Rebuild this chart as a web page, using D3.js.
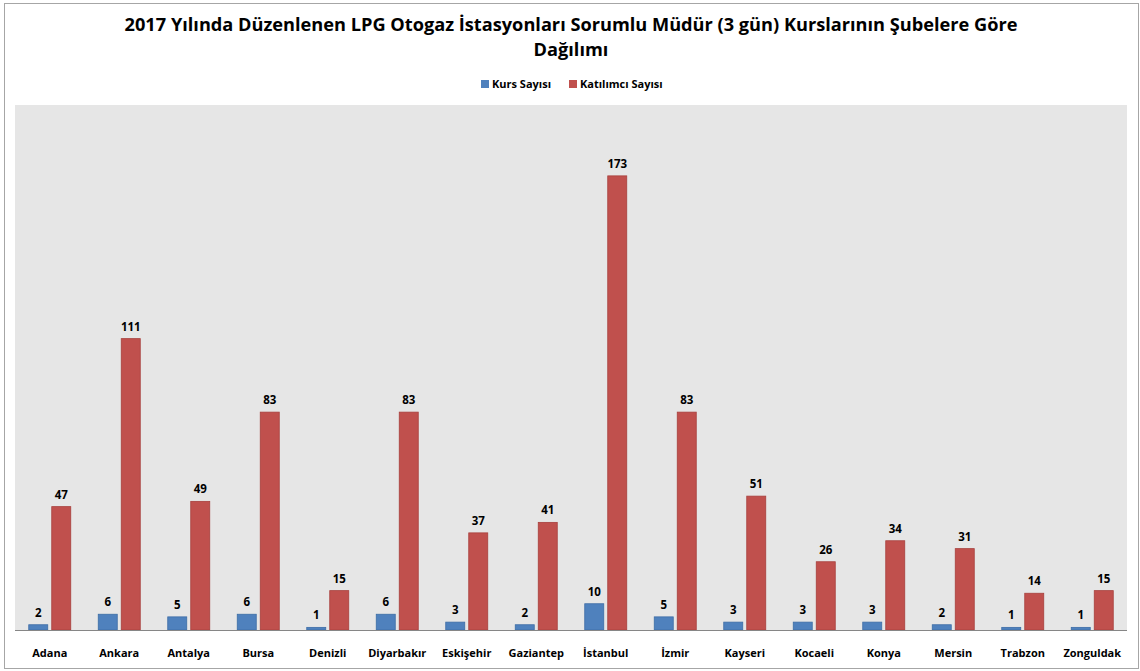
<!DOCTYPE html>
<html>
<head>
<meta charset="utf-8">
<script src="https://cdn.jsdelivr.net/npm/d3@7"></script>
<style>
  body { margin: 0; background: #fff; }
  svg text { font-family: "Open Sans", "DejaVu Sans", sans-serif; font-weight: bold; fill: #000; }
</style>
</head>
<body>
<div id="chart"></div>
<script>
// Chart data
var cities = ["Adana", "Ankara", "Antalya", "Bursa", "Denizli", "Diyarbakır", "Eskişehir", "Gaziantep",
    "İstanbul", "İzmir", "Kayseri", "Kocaeli", "Konya", "Mersin", "Trabzon", "Zonguldak"];
var kursSayisi = [2, 6, 5, 6, 1, 6, 3, 2, 10, 5, 3, 3, 3, 2, 1, 1];
var katilimciSayisi = [47, 111, 49, 83, 15, 83, 37, 41, 173, 83, 51, 26, 34, 31, 14, 15];
var seriesNames = ["Kurs Sayısı", "Katılımcı Sayısı"];
var seriesColors = ["#4f81bd", "#c0504d"];
var yMax = 200;

var W = 1140, H = 671;
var plot = {left: 15, right: 1127, top: 105, bottom: 630};

var svg = d3.select("#chart").append("svg")
    .attr("width", W)
    .attr("height", H);

// outer chart border
svg.append("rect")
    .attr("x", 4.5).attr("y", 3.5)
    .attr("width", 1134).attr("height", 665)
    .attr("fill", "#fff")
    .attr("stroke", "#a6a6a6");

// plot background
svg.append("rect")
    .attr("x", plot.left).attr("y", plot.top)
    .attr("width", plot.right - plot.left).attr("height", plot.bottom - plot.top)
    .attr("fill", "#e6e6e6");

// Title
var title = svg.append("text")
    .attr("text-anchor", "middle")
    .style("font-size", "18.2px");
title.append("tspan").attr("x", 571).attr("y", 31)
    .text("2017 Yılında Düzenlenen LPG Otogaz İstasyonları Sorumlu Müdür (3 gün) Kurslarının Şubelere Göre");
title.append("tspan").attr("x", 571).attr("y", 56).text("Dağılımı");

// Scales
var x0 = d3.scaleBand()
    .domain(cities)
    .range([plot.left, plot.right])
    .paddingInner(0)
    .paddingOuter(0);

var barW = 19, gap = 4;

var y = d3.scaleLinear()
    .domain([0, yMax])
    .range([plot.bottom, plot.top]);

var data = cities.map(function (c, i) {
    return {city: c, values: [kursSayisi[i], katilimciSayisi[i]]};
});

var groups = svg.selectAll("g.grp")
    .data(data)
    .enter().append("g")
    .attr("class", "grp")
    .attr("transform", function (d) { return "translate(" + (x0(d.city) + x0.bandwidth() / 2) + ",0)"; });

groups.selectAll("rect")
    .data(function (d) { return d.values; })
    .enter().append("rect")
    .attr("x", function (d, i) { return i === 0 ? -(barW + gap / 2) : gap / 2; })
    .attr("y", function (d) { return y(d); })
    .attr("width", barW)
    .attr("height", function (d) { return y(0) - y(d); })
    .attr("fill", function (d, i) { return seriesColors[i]; })
    .attr("stroke", function (d, i) { return i === 0 ? "#3d6da6" : "#a8403d"; })
    .attr("stroke-width", 0.8);

// value labels
groups.selectAll("text.val")
    .data(function (d) { return d.values; })
    .enter().append("text")
    .attr("class", "val")
    .attr("text-anchor", "middle")
    .attr("x", function (d, i) { return i === 0 ? -(barW + gap / 2) + barW / 2 : gap / 2 + barW / 2; })
    .attr("y", function (d) { return y(d) - 8; })
    .style("font-size", "11.5px")
    .text(function (d) { return d; });

// x axis
svg.append("line")
    .attr("x1", plot.left).attr("x2", plot.right)
    .attr("y1", plot.bottom + 0.5).attr("y2", plot.bottom + 0.5)
    .attr("stroke", "#868686");

svg.append("g")
    .selectAll("text")
    .data(cities)
    .enter().append("text")
    .attr("text-anchor", "middle")
    .attr("x", function (d) { return x0(d) + x0.bandwidth() / 2; })
    .attr("y", 657)
    .style("font-size", "11px")
    .text(function (d) { return d; });

// Legend
var legend = svg.append("g").attr("transform", "translate(481,88)");
var legX = [0, 88];
seriesNames.forEach(function (name, i) {
    var g = legend.append("g").attr("transform", "translate(" + legX[i] + ",0)");
    g.append("rect").attr("x", 0).attr("y", -8).attr("width", 8).attr("height", 8)
        .attr("fill", seriesColors[i]);
    g.append("text").attr("x", 11).attr("y", 0)
        .style("font-size", "11px")
        .text(name);
});
</script>
</body>
</html>
